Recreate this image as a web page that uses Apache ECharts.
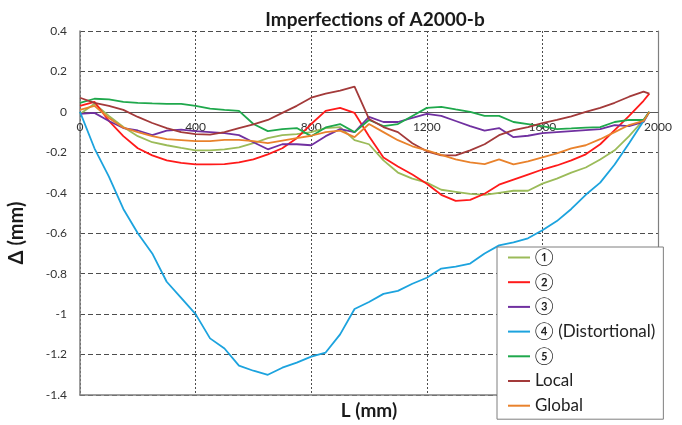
<!DOCTYPE html>
<html>
<head>
<meta charset="utf-8">
<script src="https://cdn.jsdelivr.net/npm/echarts@6/dist/echarts.min.js"></script>
<style>
  html, body { margin: 0; padding: 0; background: #fff; }
  #chart { width: 682px; height: 425px; }
</style>
</head>
<body>
<div id="chart"></div>
<script>
// Measuring positions along the member (mm)
const distance = [0, 50, 100, 150, 200, 250, 300, 350, 400, 450, 500, 550, 600, 650, 700, 750, 800, 850, 900, 950,
  1000, 1050, 1100, 1150, 1200, 1250, 1300, 1350, 1400, 1450, 1500, 1550, 1600, 1650, 1700, 1750, 1800, 1850, 1900, 1950, 1970];

// Measured imperfection along each line (mm)
const line1 = [-0.01, 0.04, -0.02, -0.075, -0.12, -0.15, -0.165, -0.178, -0.19, -0.19, -0.185, -0.175, -0.155, -0.13, -0.115, -0.11, -0.10, -0.08, -0.075, -0.14,
  -0.16, -0.24, -0.30, -0.33, -0.35, -0.385, -0.395, -0.405, -0.41, -0.40, -0.39, -0.39, -0.355, -0.33, -0.30, -0.275, -0.235, -0.19, -0.12, -0.04, 0.0];
const line2 = [0.03, 0.05, -0.045, -0.12, -0.18, -0.215, -0.24, -0.252, -0.26, -0.26, -0.258, -0.25, -0.235, -0.21, -0.18, -0.13, -0.06, 0.005, 0.02, -0.005,
  -0.12, -0.225, -0.27, -0.31, -0.355, -0.41, -0.44, -0.435, -0.405, -0.36, -0.335, -0.31, -0.285, -0.265, -0.24, -0.21, -0.16, -0.09, -0.02, 0.055, 0.09];
const line3 = [-0.01, -0.005, -0.045, -0.08, -0.092, -0.115, -0.093, -0.088, -0.095, -0.10, -0.105, -0.115, -0.15, -0.185, -0.16, -0.16, -0.165, -0.12, -0.085, -0.10,
  -0.025, -0.05, -0.05, -0.03, -0.01, -0.02, -0.045, -0.07, -0.093, -0.08, -0.125, -0.118, -0.105, -0.10, -0.095, -0.09, -0.085, -0.065, -0.07, -0.05, 0.0];
const line4 = [0.0, -0.18, -0.32, -0.48, -0.60, -0.70, -0.84, -0.92, -1.0, -1.12, -1.17, -1.255, -1.28, -1.30, -1.265, -1.24, -1.21, -1.19, -1.10, -0.975,
  -0.94, -0.90, -0.885, -0.85, -0.82, -0.775, -0.765, -0.75, -0.70, -0.66, -0.645, -0.625, -0.585, -0.54, -0.48, -0.41, -0.35, -0.26, -0.155, -0.045, 0.0];
const line5 = [0.045, 0.065, 0.062, 0.05, 0.045, 0.042, 0.04, 0.04, 0.03, 0.016, 0.01, 0.005, -0.06, -0.095, -0.085, -0.08, -0.12, -0.077, -0.06, -0.10,
  -0.04, -0.07, -0.06, -0.02, 0.02, 0.025, 0.012, 0.0, -0.02, -0.02, -0.05, -0.06, -0.07, -0.085, -0.082, -0.078, -0.075, -0.05, -0.04, -0.04, 0.0];
const local = [0.07, 0.045, 0.03, 0.01, -0.025, -0.055, -0.08, -0.10, -0.11, -0.112, -0.10, -0.08, -0.062, -0.04, -0.005, 0.03, 0.07, 0.09, 0.105, 0.125,
  -0.035, -0.075, -0.10, -0.155, -0.195, -0.215, -0.215, -0.19, -0.16, -0.115, -0.09, -0.075, -0.055, -0.04, -0.022, 0.0, 0.02, 0.045, 0.075, 0.10, 0.09];
const global = [0.01, 0.03, -0.03, -0.078, -0.10, -0.12, -0.135, -0.14, -0.145, -0.145, -0.138, -0.138, -0.145, -0.155, -0.142, -0.13, -0.118, -0.10, -0.093, -0.125,
  -0.06, -0.10, -0.14, -0.17, -0.19, -0.213, -0.235, -0.25, -0.258, -0.235, -0.26, -0.245, -0.225, -0.205, -0.18, -0.165, -0.135, -0.10, -0.065, -0.045, 0.0];

const seriesNames = ['①', '②', '③', '④ (Distortional)', '⑤', 'Local', 'Global'];
const seriesValues = [line1, line2, line3, line4, line5, local, global];
const seriesColors = ['#9BBB59', '#FF1A1A', '#7030A0', '#1CA3DE', '#1FA84C', '#A33A3A', '#E9822C'];

const FONT = "Lato, 'DejaVu Sans', sans-serif";
const LEGEND_FONT = "Lato, 'Noto Sans CJK JP', 'DejaVu Sans', sans-serif";

const PLOT = { left: 80, right: 24, top: 31, bottom: 30 };

const chart = echarts.init(document.getElementById('chart'), null, { renderer: 'canvas' });

chart.setOption({
  animation: false,
  backgroundColor: '#ffffff',
  color: seriesColors,
  title: {
    text: 'Imperfections of A2000-b',
    left: 370,
    textAlign: 'center',
    top: 5,
    textStyle: { fontFamily: FONT, fontWeight: 'bold', fontSize: 19, color: '#1a1a1a' }
  },
  grid: [
    // 0: data area
    Object.assign({ outerBoundsMode: 'none', containLabel: false }, PLOT),
    // 1: same box, draws the solid frame and the axis titles
    Object.assign({ outerBoundsMode: 'none', containLabel: false }, PLOT),
    // 2: upper part of the box down to the zero line, carries the distance labels
    { outerBoundsMode: 'none', containLabel: false, left: 80, right: 24, top: 31, bottom: 313 }
  ],
  legend: {
    orient: 'vertical',
    left: 497,
    top: 247,
    height: 180,
    padding: [2, 8, 5, 11],
    itemGap: 7.7,
    itemWidth: 22,
    itemHeight: 2,
    icon: 'rect',
    backgroundColor: '#ffffff',
    borderColor: '#7f7f7f',
    borderWidth: 1,
    borderRadius: 0,
    textStyle: { fontFamily: LEGEND_FONT, fontSize: 17, lineHeight: 16, color: '#222' },
    data: seriesNames
  },
  xAxis: [
    {
      gridIndex: 0,
      type: 'value',
      min: 0, max: 2000, interval: 400,
      axisLine: { onZero: true, lineStyle: { color: '#595959', width: 1 } },
      axisTick: { show: false },
      axisLabel: { show: false },
      splitLine: { show: true, lineStyle: { color: '#4d4d4d', type: [2, 2], width: 1 } }
    },
    {
      gridIndex: 1,
      type: 'value',
      position: 'bottom',
      min: 0, max: 2000, interval: 400,
      name: 'L (mm)',
      nameLocation: 'middle',
      nameGap: 6,
      nameTextStyle: { fontFamily: FONT, fontWeight: 'bold', fontSize: 19, color: '#1a1a1a' },
      axisLine: { onZero: false, lineStyle: { color: '#7f7f7f', width: 1.5 } },
      axisTick: { show: false },
      axisLabel: { show: false },
      splitLine: { show: false }
    },
    {
      gridIndex: 2,
      type: 'value',
      position: 'bottom',
      min: 0, max: 2000, interval: 400,
      axisLine: { show: false, onZero: false },
      axisTick: { show: false },
      axisLabel: { fontFamily: FONT, fontSize: 12, color: '#333', margin: 9, formatter: v => String(v) },
      splitLine: { show: false }
    }
  ],
  yAxis: [
    {
      gridIndex: 0,
      type: 'value',
      min: -1.4, max: 0.4, interval: 0.2,
      name: 'Δ (mm)',
      nameLocation: 'middle',
      nameGap: 53,
      nameTextStyle: { fontFamily: FONT, fontWeight: 'bold', fontSize: 20, color: '#1a1a1a', padding: [0, 40, 0, 0] },
      axisLine: { show: true, onZero: false, lineStyle: { color: '#7f7f7f', width: 1.5 } },
      axisTick: { show: false },
      axisLabel: {
        fontFamily: FONT, fontSize: 12, color: '#333', margin: 13,
        formatter: v => String(Math.round(v * 10) / 10)
      },
      splitLine: { show: true, lineStyle: { color: '#4d4d4d', type: [5, 3], width: 1 } }
    },
    {
      gridIndex: 1,
      type: 'value',
      position: 'right',
      min: -1.4, max: 0.4, interval: 0.2,
      axisLine: { show: true, onZero: false, lineStyle: { color: '#7f7f7f', width: 1.2 } },
      axisTick: { show: false },
      axisLabel: { show: false },
      splitLine: { show: false }
    },
    {
      gridIndex: 2,
      type: 'value',
      min: 0, max: 0.4,
      show: false
    }
  ],
  series: seriesNames.map((name, k) => ({
    name,
    type: 'line',
    xAxisIndex: 0,
    yAxisIndex: 0,
    showSymbol: false,
    symbol: 'none',
    smooth: false,
    z: 3,
    lineStyle: { width: 1.8 },
    data: distance.map((d, i) => [d, seriesValues[k][i]])
  }))
});
</script>
</body>
</html>
